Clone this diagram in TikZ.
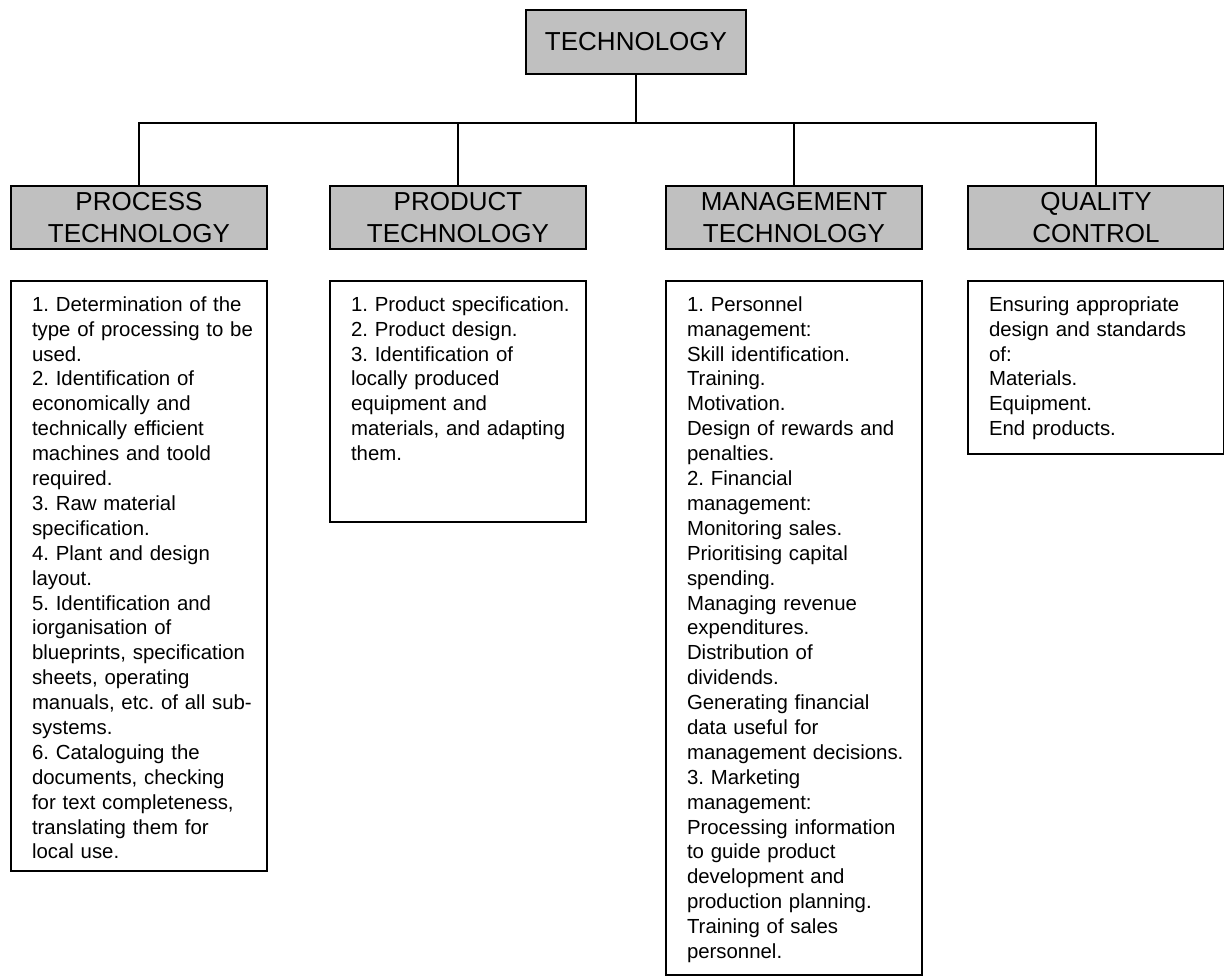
\documentclass[tikz,border=0pt]{standalone}
\usepackage{fontspec}
\setmainfont{Liberation Sans}

\definecolor{boxgray}{HTML}{C0C0C0}
\newcommand\labelfont{\fontsize{14.8}{18.1}\selectfont}
\newcommand\listfont{\fontsize{11.6}{14.17}\selectfont\frenchspacing
    \hyphenpenalty=10000\exhyphenpenalty=10000}

\tikzset{
    headbox/.style={draw, fill=boxgray, minimum width=5.12cm, minimum height=1.26cm,
        inner sep=0pt, align=center, font=\labelfont},
    subbox/.style={headbox, text width=5.12cm, text height=10.5pt},
    listbox/.style={draw, anchor=north, text width=4.64cm, inner xsep=0.24cm,
        inner ysep=0pt, align=left, font=\listfont, text height=17.3pt,
        execute at begin node={\leftskip=0.18cm}}
}

\begin{document}
\begin{tikzpicture}[x=0.02cm, y=-0.02cm, line width=1pt]
        \useasboundingbox (0,0) rectangle (1224,979);

        \node[headbox, minimum width=4.4cm, minimum height=1.28cm] (tech) at (636,42) {TECHNOLOGY};

        \node[subbox] (proc) at (139,217.5) {PROCESS\\TECHNOLOGY};
        \node[subbox] (prod) at (458,217.5) {PRODUCT\\TECHNOLOGY};
        \node[subbox] (mgmt) at (794,217.5) {MANAGEMENT\\TECHNOLOGY};
        \node[subbox] (qual) at (1096,217.5) {QUALITY\\CONTROL};

        % tree lines
        \coordinate (bus) at (636,123);
        \draw (tech) -- (bus);
        \draw (proc) -- (proc |- bus) -| (qual);
        \foreach \n in {prod,mgmt}
        \draw (\n) -- (\n |- bus);

        \node[listbox, text depth=11.19cm] (procList) at (139,280) {1. Determination of the\\
            type of processing to be\\
            used.\\
            2. Identification of\\
            economically and\\
            technically efficient\\
            machines and toold\\
            required.\\
            3. Raw material\\
            specification.\\
            4. Plant and design\\
            layout.\\
            5. Identification and\\
            iorganisation of\\
            blueprints, specification\\
            sheets, operating\\
            manuals, etc. of all sub-\\
            systems.\\
            6. Cataloguing the\\
            documents, checking\\
            for text completeness,\\
            translating them for\\
            local use.};
        \node[listbox, text depth=4.21cm] (prodList) at (458,280) {1. Product specification.\\
            2. Product design.\\
            3. Identification of\\
            locally produced\\
            equipment and\\
            materials, and adapting\\
            them.};
        \node[listbox, text depth=13.27cm] (mgmtList) at (794,280) {1. Personnel\\
            management:\\
            Skill identification.\\
            Training.\\
            Motivation.\\
            Design of rewards and\\
            penalties.\\
            2. Financial\\
            management:\\
            Monitoring sales.\\
            Prioritising capital\\
            spending.\\
            Managing revenue\\
            expenditures.\\
            Distribution of\\
            dividends.\\
            Generating financial\\
            data useful for\\
            management decisions.\\
            3. Marketing\\
            management:\\
            Processing information\\
            to guide product\\
            development and\\
            production planning.\\
            Training of sales\\
            personnel.};
        \node[listbox, text depth=2.85cm] (qualList) at (1096,280) {Ensuring appropriate\\
            design and standards\\
            of:\\
            Materials.\\
            Equipment.\\
            End products.};
    \end{tikzpicture}
\end{document}
